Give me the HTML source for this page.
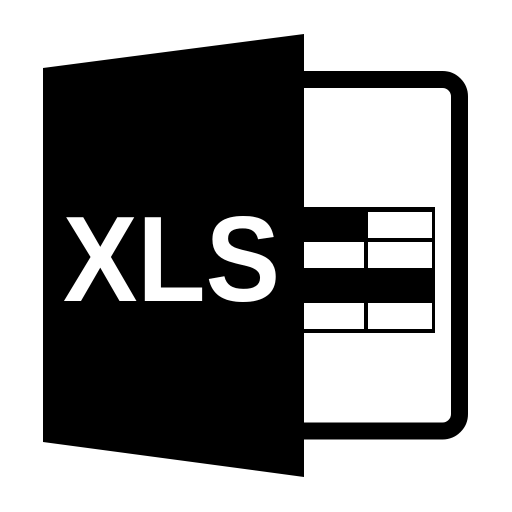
<!DOCTYPE html>
<html><head><style>html,body{margin:0;padding:0;background:#fff}svg{display:block}</style></head>
<body>
<svg width="512" height="512" viewBox="0 0 512 512" xmlns="http://www.w3.org/2000/svg">
<rect x="0" y="0" width="512" height="512" fill="#fff"/>
<rect x="280" y="79.5" width="179.5" height="351.5" rx="17" fill="none" stroke="#000" stroke-width="17"/>
<polygon points="43,68 304,34 304,477 43,442" fill="#000"/>
<rect x="300" y="207" width="135" height="126" fill="#000"/>
<rect x="368" y="212" width="64" height="26" fill="#fff"/>
<rect x="304" y="242" width="60" height="26" fill="#fff"/>
<rect x="368" y="242" width="64" height="26" fill="#fff"/>
<rect x="304" y="303" width="60" height="26" fill="#fff"/>
<rect x="368" y="303" width="64" height="26" fill="#fff"/>
<text x="63" y="301" font-family="Liberation Sans, sans-serif" font-weight="bold" font-size="122" fill="#fff" textLength="217" lengthAdjust="spacingAndGlyphs">XLS</text>
</svg>
</body></html>
